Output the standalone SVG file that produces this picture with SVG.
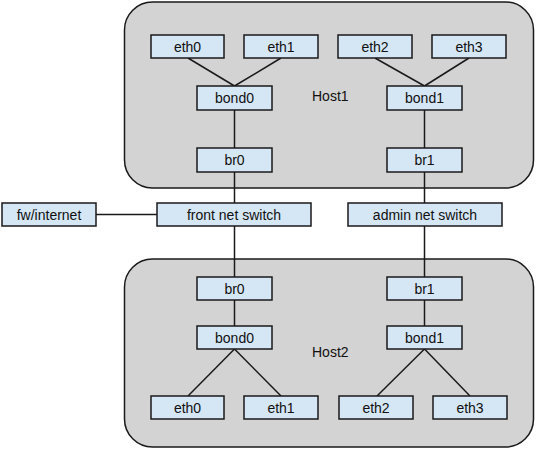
<svg xmlns="http://www.w3.org/2000/svg" width="540" height="455" viewBox="0 0 540 455">
<style>
.host{fill:#d3d3d3;stroke:#1a1a1a;stroke-width:1.5}
.n{fill:#d5e6f5;stroke:#1a1a1a;stroke-width:1.5}
.t{font-family:"Liberation Sans",Arial,sans-serif;font-size:14px;fill:#111;text-anchor:middle}
.l{font-family:"Liberation Sans",Arial,sans-serif;font-size:14px;fill:#111}
.c{stroke:#1a1a1a;stroke-width:1.5;fill:none}
</style>
<rect width="540" height="455" fill="#fff"/>
<g id="host1"><rect class="host" x="124.5" y="2" width="409" height="186" rx="28"/><text class="l" x="312" y="101">Host1</text></g>
<g id="host2"><rect class="host" x="124.5" y="259" width="409" height="188" rx="28"/><text class="l" x="312" y="357">Host2</text></g>
<g id="connectors">
<line class="c" x1="188" y1="58" x2="234.5" y2="86"/>
<line class="c" x1="281" y1="58" x2="234.5" y2="86"/>
<line class="c" x1="234.5" y1="110" x2="234.5" y2="148"/>
<line class="c" x1="234.5" y1="172" x2="234.5" y2="203"/>
<line class="c" x1="375" y1="58" x2="424.5" y2="86"/>
<line class="c" x1="469" y1="58" x2="424.5" y2="86"/>
<line class="c" x1="424.5" y1="110" x2="424.5" y2="148"/>
<line class="c" x1="424.5" y1="172" x2="424.5" y2="203"/>
<line class="c" x1="96" y1="214.5" x2="157" y2="214.5"/>
<line class="c" x1="234.5" y1="226" x2="234.5" y2="277"/>
<line class="c" x1="424.5" y1="226" x2="424.5" y2="277"/>
<line class="c" x1="234.5" y1="300" x2="234.5" y2="326"/>
<line class="c" x1="424.5" y1="300" x2="424.5" y2="326"/>
<line class="c" x1="234.5" y1="349" x2="188" y2="396"/>
<line class="c" x1="234.5" y1="349" x2="281" y2="396"/>
<line class="c" x1="424.5" y1="349" x2="377" y2="396"/>
<line class="c" x1="424.5" y1="349" x2="470" y2="396"/>
</g>
<g id="h1-eth0"><rect class="n" x="151" y="35" width="73" height="23"/><text class="t" x="187.5" y="51.5">eth0</text></g>
<g id="h1-eth1"><rect class="n" x="244" y="35" width="74" height="23"/><text class="t" x="281" y="51.5">eth1</text></g>
<g id="h1-eth2"><rect class="n" x="338" y="35" width="74" height="23"/><text class="t" x="375" y="51.5">eth2</text></g>
<g id="h1-eth3"><rect class="n" x="432" y="35" width="74" height="23"/><text class="t" x="469" y="51.5">eth3</text></g>
<g id="h1-bond0"><rect class="n" x="197" y="86" width="75" height="24"/><text class="t" x="234.5" y="103">bond0</text></g>
<g id="h1-bond1"><rect class="n" x="387" y="86" width="75" height="24"/><text class="t" x="424.5" y="103">bond1</text></g>
<g id="h1-br0"><rect class="n" x="197" y="148" width="75" height="24"/><text class="t" x="234.5" y="165">br0</text></g>
<g id="h1-br1"><rect class="n" x="387" y="148" width="75" height="24"/><text class="t" x="424.5" y="165">br1</text></g>
<g id="fw"><rect class="n" x="2" y="203" width="94" height="23"/><text class="t" x="49" y="219.5">fw/internet</text></g>
<g id="front"><rect class="n" x="157" y="203" width="154" height="23"/><text class="t" x="234" y="219.5">front net switch</text></g>
<g id="admin"><rect class="n" x="348" y="203" width="154" height="23"/><text class="t" x="425" y="219.5">admin net switch</text></g>
<g id="h2-br0"><rect class="n" x="197" y="277" width="75" height="23"/><text class="t" x="234.5" y="293.5">br0</text></g>
<g id="h2-br1"><rect class="n" x="387" y="277" width="75" height="23"/><text class="t" x="424.5" y="293.5">br1</text></g>
<g id="h2-bond0"><rect class="n" x="197" y="326" width="75" height="23"/><text class="t" x="234.5" y="342.5">bond0</text></g>
<g id="h2-bond1"><rect class="n" x="387" y="326" width="75" height="23"/><text class="t" x="424.5" y="342.5">bond1</text></g>
<g id="h2-eth0"><rect class="n" x="151" y="396" width="73" height="23"/><text class="t" x="187.5" y="412.5">eth0</text></g>
<g id="h2-eth1"><rect class="n" x="244" y="396" width="74" height="23"/><text class="t" x="281" y="412.5">eth1</text></g>
<g id="h2-eth2"><rect class="n" x="339" y="396" width="74" height="23"/><text class="t" x="376" y="412.5">eth2</text></g>
<g id="h2-eth3"><rect class="n" x="433" y="396" width="74" height="23"/><text class="t" x="470" y="412.5">eth3</text></g>
</svg>
